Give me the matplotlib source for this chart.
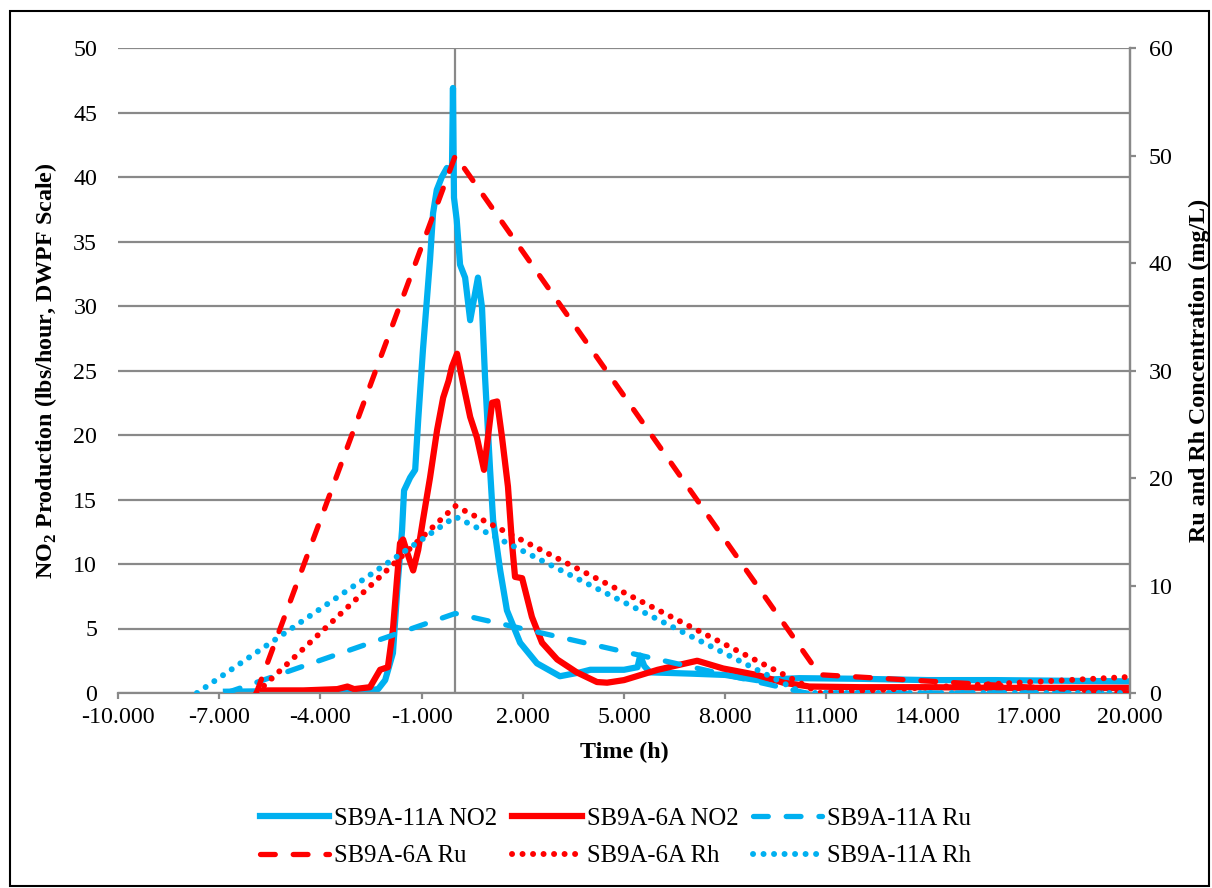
import matplotlib.pyplot as plt
import matplotlib.patches as patches
import numpy as np

plt.rcParams['font.family'] = ['Liberation Serif', 'DejaVu Serif']
plt.rcParams['mathtext.fontset'] = 'custom'
plt.rcParams['mathtext.rm'] = 'Liberation Serif'
plt.rcParams['mathtext.bf'] = 'Liberation Serif:bold'

# NO2 production (left axis, lbs/hour)
t_11a_no2 = [-6.8, -5.0, -3.5, -2.6, -2.29, -2.08, -1.85, -1.70, -1.58, -1.52, -1.34, -1.19,
             -1.10, -0.96, -0.75, -0.66, -0.55, -0.40, -0.25, -0.10, -0.07, -0.04, 0.04,
             0.14, 0.29, 0.44, 0.67, 0.79, 0.88, 1.03, 1.12, 1.33, 1.53, 1.92, 2.42, 3.1,
             3.7, 4.0, 5.0, 5.4, 5.48, 5.6, 5.77, 7.0, 8.0, 8.94, 10.2, 12.0, 14.0, 16.0,
             18.0, 20.0]
no2_11a = [0.1, 0.15, 0.15, 0.2, 0.3, 1.0, 3.1, 8.8, 12.6, 15.7, 16.7, 17.3,
           21.2, 26.6, 33.6, 37.2, 39.0, 40.0, 40.7, 40.5, 46.9, 38.4, 36.7,
           33.2, 32.2, 28.9, 32.2, 29.9, 24.5, 17.3, 13.4, 9.5, 6.4, 3.9, 2.3, 1.3,
           1.6, 1.8, 1.8, 2.0, 2.9, 2.1, 1.6, 1.5, 1.4, 1.0, 1.15, 1.1, 1.0, 1.0,
           0.95, 0.9]

t_6a_no2 = [-5.7, -4.5, -3.5, -3.2, -3.0, -2.53, -2.23, -2.0, -1.85, -1.73, -1.64, -1.55,
            -1.43, -1.25, -1.10, -0.96, -0.75, -0.54, -0.36, -0.20, -0.10, 0.05, 0.23,
            0.44, 0.64, 0.85, 1.09, 1.24, 1.38, 1.56, 1.68, 1.77, 1.98, 2.27, 2.57, 3.02,
            3.6, 4.2, 4.5, 5.0, 6.0, 7.17, 7.94, 8.94, 9.72, 10.5, 12.0, 14.0, 16.0,
            18.0, 20.0]
no2_6a = [0.2, 0.2, 0.3, 0.5, 0.3, 0.45, 1.8, 2.0, 4.9, 8.8, 11.6, 11.9,
          10.9, 9.5, 11.1, 13.4, 16.7, 20.4, 22.9, 24.2, 25.3, 26.3, 24.0,
          21.4, 19.8, 17.3, 22.5, 22.6, 19.9, 16.0, 11.6, 9.0, 8.9, 5.9, 3.9, 2.6,
          1.6, 0.85, 0.8, 1.0, 1.8, 2.5, 1.9, 1.4, 0.8, 0.5, 0.45, 0.45, 0.4,
          0.4, 0.4]

# Ru / Rh concentration (right axis, mg/L)
t_11a_ru = [-6.8, 0.0, 10.4, 20.0]
ru_11a = [0.0, 7.4, 0.0, 0.0]
t_6a_ru = [-5.9, 0.0, 10.8, 20.0]
ru_6a = [0.0, 50.0, 1.7, 0.0]
t_6a_rh = [-5.9, 0.0, 10.8, 20.0]
rh_6a = [0.0, 17.4, 0.0, 1.5]
t_11a_rh = [-7.66, 0.0, 10.3, 20.0]
rh_11a = [0.0, 16.4, 0.0, 0.0]

xticks = np.arange(-10, 21, 3)

blue = '#00B0F0'
red = '#FF0000'
gray = '#898989'
fs = 17.3

fig = plt.figure(figsize=(12.12, 8.88), dpi=100)
ax = fig.add_axes([118 / 1212, 1 - 693 / 888, (1130 - 118) / 1212, (693 - 48) / 888])
ax2 = ax.twinx()

ax.set_xlim(-10, 20)
ax.set_ylim(0, 50)
ax2.set_ylim(0, 60)
ax.set_yticks(np.arange(0, 51, 5))
ax2.set_yticks(np.arange(0, 61, 10))
ax.set_xticks(xticks)
ax.set_xticklabels([f"{v:.3f}" for v in xticks])

ax.grid(axis='y', color=gray, lw=1.6)
ax.set_axisbelow(True)
ax.axvline(0, color=gray, lw=1.6, zorder=1)

for a in (ax, ax2):
    for s in ('top', 'left'):
        a.spines[s].set_visible(False)
    a.spines['bottom'].set_color(gray)
    a.spines['right'].set_color(gray)
    a.spines['bottom'].set_linewidth(1.6)
    a.spines['right'].set_linewidth(1.6)
ax2.spines['bottom'].set_visible(False)

ax.tick_params(axis='y', length=0, pad=15, labelsize=fs)
ax.tick_params(axis='x', length=4, width=1.6, color=gray, pad=6, labelsize=fs)
ax2.tick_params(axis='y', length=4.5, width=1.6, color=gray, pad=9, labelsize=fs)

l1, = ax.plot(t_11a_no2, no2_11a, color=blue, lw=4.5, label='SB9A-11A NO2')
l2, = ax.plot(t_6a_no2, no2_6a, color=red, lw=4.5, label='SB9A-6A NO2')

l3, = ax2.plot(t_11a_ru, ru_11a, color=blue, lw=3.8, dashes=(2.8, 3.4),
               dash_capstyle='round', label='SB9A-11A Ru')
l4, = ax2.plot(t_6a_ru, ru_6a, color=red, lw=3.8, dashes=(2.8, 3.4),
               dash_capstyle='round', label='SB9A-6A Ru')
l5, = ax2.plot(t_6a_rh, rh_6a, color=red, lw=4.3, dashes=(0.01, 1.75),
               dash_capstyle='round', label='SB9A-6A Rh')
l6, = ax2.plot(t_11a_rh, rh_11a, color=blue, lw=4.3, dashes=(0.01, 1.75),
               dash_capstyle='round', label='SB9A-11A Rh')

ax.set_xlabel('Time (h)', fontsize=fs, fontweight='bold', labelpad=10)
ax.set_ylabel(r'NO$_\mathbf{2}$ Production (lbs/hour, DWPF Scale)', fontsize=fs,
              fontweight='bold', labelpad=10)
ax2.set_ylabel('Ru and Rh Concentration (mg/L)', fontsize=fs, fontweight='bold',
               labelpad=12)

# legend is filled column by column
fig.legend([l1, l4, l2, l5, l3, l6],
           [h.get_label() for h in (l1, l4, l2, l5, l3, l6)],
           loc='center', bbox_to_anchor=(0.508, 0.057), ncol=3, frameon=False,
           fontsize=17.8, handlelength=2.8, handletextpad=0.2, columnspacing=0.6,
           labelspacing=0.62)

fig.patches.append(patches.Rectangle((10 / 1212, 2 / 888), 1199 / 1212, 875 / 888,
                                     transform=fig.transFigure, fill=False,
                                     edgecolor='black', lw=1.5))

fig.savefig('out.png', dpi=100)
